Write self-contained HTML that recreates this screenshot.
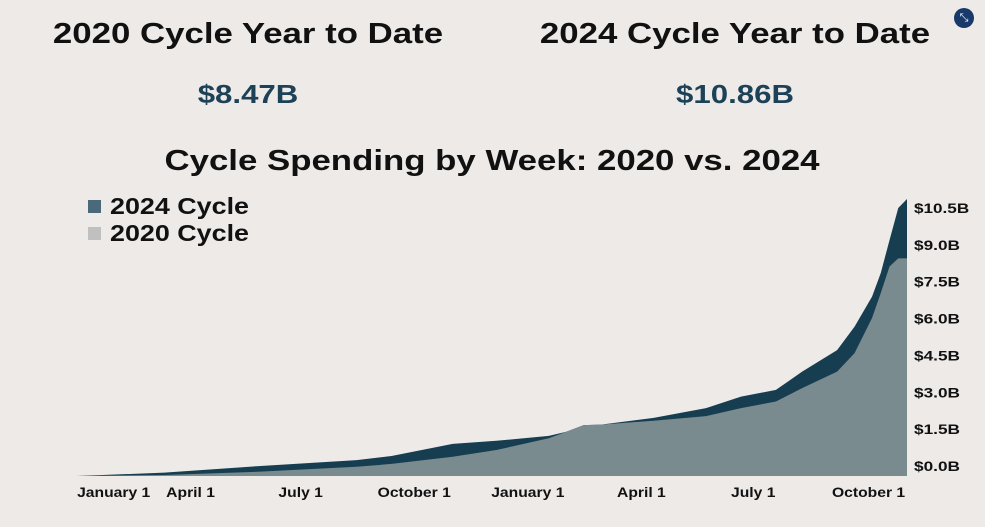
<!DOCTYPE html>
<html><head><meta charset="utf-8"><style>
body{margin:0;width:985px;height:527px;background:#edeae8;overflow:hidden;font-family:"Liberation Sans",sans-serif;}
.t{position:absolute;font-weight:bold;color:#111;white-space:nowrap;transform:translateX(-50%) scaleX(1.2);}
svg text{font-family:"Liberation Sans",sans-serif;}
</style></head><body>
<div class="t" style="left:248px;top:18px;font-size:29px;">2020 Cycle Year to Date</div>
<div class="t" style="left:735px;top:18px;font-size:29px;">2024 Cycle Year to Date</div>
<div class="t" style="left:248px;top:79px;font-size:26px;color:#1d4257;">$8.47B</div>
<div class="t" style="left:735px;top:79px;font-size:26px;color:#1d4257;">$10.86B</div>
<div class="t" style="left:492px;top:145px;font-size:29px;">Cycle Spending by Week: 2020 vs. 2024</div>
<div style="position:absolute;left:954px;top:8px;width:20px;height:20px;border-radius:50%;background:#173a6b;color:#fff;font-size:11px;line-height:20px;text-align:center;">⤡</div>
<svg id="c" width="985" height="527" style="position:absolute;left:0;top:0"></svg>
<script>
const weeks=[0,10,21,32,36,43,48,54,56,58,60,66,72,76,80,83,87,89,91,92,93,94,95];
const v2024=[0,0.13,0.39,0.62,0.78,1.25,1.37,1.56,1.72,1.98,2.0,2.26,2.64,3.09,3.35,4.06,4.9,5.81,6.98,7.9,9.18,10.43,10.78];
const v2020=[0,0.04,0.17,0.36,0.47,0.75,1.01,1.47,1.72,1.98,2.0,2.15,2.33,2.64,2.9,3.42,4.06,4.78,6.15,7.12,8.15,8.47,8.47];
const yTicks=[0,1.5,3,4.5,6,7.5,9,10.5];
const yLabels=["$0.0B","$1.5B","$3.0B","$4.5B","$6.0B","$7.5B","$9.0B","$10.5B"];
const xTickWeeks=[4.2,13,25.6,38.6,51.6,64.6,77.4,90.6];
const xLabels=["January 1","April 1","July 1","October 1","January 1","April 1","July 1","October 1"];
const X=w=>77+w*(830/95), Y=v=>476-v*25.7, YL=v=>471-v*24.57;
const svg=document.getElementById('c'),NS='http://www.w3.org/2000/svg';
function mk(t,a){const e=document.createElementNS(NS,t);for(const k in a)e.setAttribute(k,a[k]);svg.appendChild(e);return e;}
function area(vals){let d='M'+X(weeks[0])+' '+Y(0);weeks.forEach((w,i)=>d+=' L'+X(w)+' '+Y(vals[i]));return d+' L'+X(weeks[weeks.length-1])+' '+Y(0)+'Z';}
const a1=mk('path',{d:area(v2024),fill:'#163e50'});


const a2=mk('path',{d:area(v2020),fill:'#7a8b90'});


yTicks.forEach((v,i)=>{const t=mk('text',{x:914,y:YL(v),'font-size':14,'font-weight':'bold',fill:'#111',textLength:yLabels[i].length*9.2,lengthAdjust:'spacingAndGlyphs'});t.textContent=yLabels[i];

});
xTickWeeks.forEach((w,i)=>{const t=mk('text',{x:X(w),y:497,'font-size':14,'font-weight':'bold',fill:'#111','text-anchor':'middle',transform:'translate('+X(w)+' 0) scale(1.12 1) translate('+(-X(w))+' 0)'});t.textContent=xLabels[i];

});
[['2024 Cycle','#4a6a7c',206],['2020 Cycle','#c0c0c0',233]].forEach(l=>{
const r=mk('rect',{x:88,y:l[2]-6,width:13,height:13,fill:l[1]});


const t=mk('text',{x:110,y:l[2]+8,'font-size':23,'font-weight':'bold',fill:'#111',textLength:139,lengthAdjust:'spacingAndGlyphs'});t.textContent=l[0];

});
</script>
</body></html>
